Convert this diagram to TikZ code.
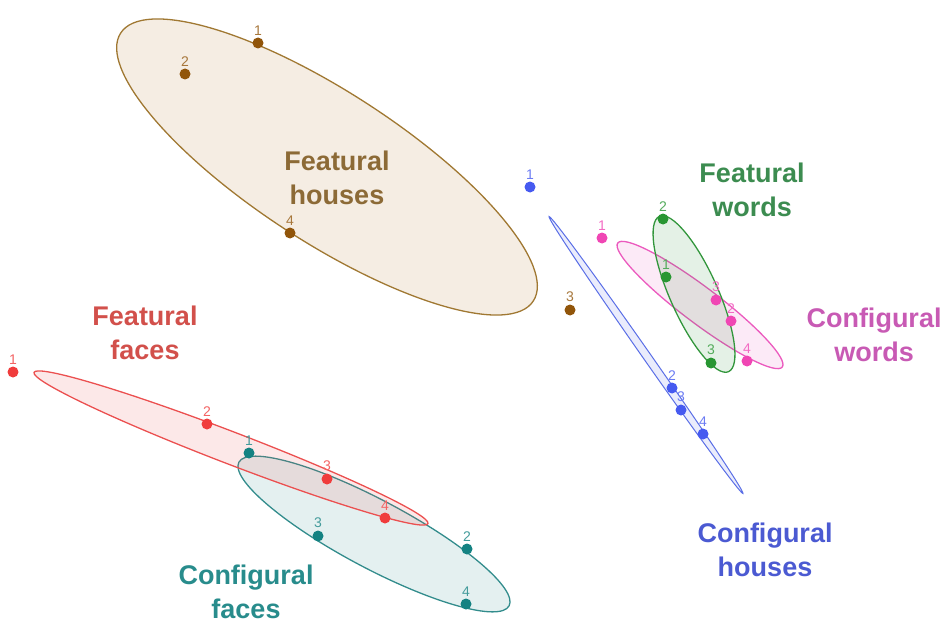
\documentclass[tikz,border=0pt]{standalone}
\usepackage{fontspec}
\setmainfont{Liberation Sans}
\definecolor{brP}{RGB}{145,85,10}
\definecolor{brS}{RGB}{160,120,50}
\definecolor{brT}{RGB}{140,106,54}
\definecolor{brF}{RGB}{190,140,80}
\definecolor{grP}{RGB}{40,150,50}
\definecolor{grS}{RGB}{50,150,60}
\definecolor{grT}{RGB}{60,140,80}
\definecolor{piP}{RGB}{240,70,180}
\definecolor{piS}{RGB}{235,90,190}
\definecolor{piT}{RGB}{200,90,180}
\definecolor{blP}{RGB}{70,90,240}
\definecolor{blS}{RGB}{90,110,230}
\definecolor{blT}{RGB}{75,90,210}
\definecolor{reP}{RGB}{240,60,60}
\definecolor{reS}{RGB}{235,80,80}
\definecolor{reT}{RGB}{210,80,75}
\definecolor{teP}{RGB}{20,130,130}
\definecolor{teS}{RGB}{50,140,140}
\definecolor{teT}{RGB}{40,140,140}
\begin{document}
\begin{tikzpicture}[x=1pt,y=-1pt,
  pt/.style={circle,fill=#1,inner sep=0pt,minimum size=11pt},
  num/.style={font=\fontsize{14}{14}\selectfont,text=#1!80!white,inner sep=0.5pt,label distance=1.5pt},
  grp/.style={font=\bfseries\fontsize{27}{34}\selectfont,text=#1,align=center},
  ell/.style={draw=#1,fill=#1,fill opacity=0.13,line width=1.3pt}]
\useasboundingbox (0,0) rectangle (944,623);
% ellipses
\draw[draw=brS,fill=brF,fill opacity=0.16,line width=1.3pt,rotate around={-33:(327,167)}] (327,167) ellipse [x radius=246, y radius=75];
\draw[ell=blS,line width=1pt,rotate around={-55:(646,355)}] (646,355) ellipse [x radius=169, y radius=4];
\draw[ell=piS,rotate around={-37:(700,305)}] (700,305) ellipse [x radius=103, y radius=18];
\draw[ell=grS,rotate around={-66:(694,294)}] (694,294) ellipse [x radius=85, y radius=24];
\draw[ell=teS,rotate around={-28:(374,534)}] (374,534) ellipse [x radius=153, y radius=34];
\draw[ell=reS,rotate around={-21:(231,448)}] (231,448) ellipse [x radius=211, y radius=16];
% group labels
\node[grp=brT] (tFH) at (337,178) {Featural\\houses};
\node[grp=grT] (tFW) at (752,190) {Featural\\words};
\node[grp=piT] (tCW) at (874,335) {Configural\\words};
\node[grp=blT] (tCH) at (765,550) {Configural\\houses};
\node[grp=reT] (tFF) at (145,333) {Featural\\faces};
\node[grp=teT] (tCF) at (246,592) {Configural\\faces};
% brown points
\node[pt=brP,label={[num=brP]above:1}] (h1) at (258,43) {};
\node[pt=brP,label={[num=brP]above:2}] (h2) at (185,74) {};
\node[pt=brP,label={[num=brP]above:3}] (h3) at (570,310) {};
\node[pt=brP,label={[num=brP]above:4}] (h4) at (290,233) {};
% blue points
\node[pt=blP,label={[num=blP]above:1}] (b1) at (530,187) {};
\node[pt=blP,label={[num=blP]above:2}] (b2) at (672,388) {};
\node[pt=blP,label={[num=blP]above:3}] (b3) at (681,410) {};
\node[pt=blP,label={[num=blP]above:4}] (b4) at (703,434) {};
% green points
\node[pt=grP,label={[num=grP]above:1}] (g1) at (666,277) {};
\node[pt=grP,label={[num=grP]above:2}] (g2) at (663,219) {};
\node[pt=grP,label={[num=grP]above:3}] (g3) at (711,363) {};
% pink points
\node[pt=piP,label={[num=piP]above:1}] (p1) at (602,238) {};
\node[pt=piP,label={[num=piP]above:2}] (p2) at (731,321) {};
\node[pt=piP,label={[num=piP]above:3}] (p3) at (716,300) {};
\node[pt=piP,label={[num=piP]above:4}] (p4) at (747,361) {};
% red points
\node[pt=reP,label={[num=reP]above:1}] (r1) at (13,372) {};
\node[pt=reP,label={[num=reP]above:2}] (r2) at (207,424) {};
\node[pt=reP,label={[num=reP]above:3}] (r3) at (327,479) {};
\node[pt=reP,label={[num=reP]above:4}] (r4) at (385,518) {};
% teal points
\node[pt=teP,label={[num=teP]above:1}] (c1) at (249,453) {};
\node[pt=teP,label={[num=teP]above:2}] (c2) at (467,549) {};
\node[pt=teP,label={[num=teP]above:3}] (c3) at (318,536) {};
\node[pt=teP,label={[num=teP]above:4}] (c4) at (466,604) {};
\end{tikzpicture}
\end{document}
